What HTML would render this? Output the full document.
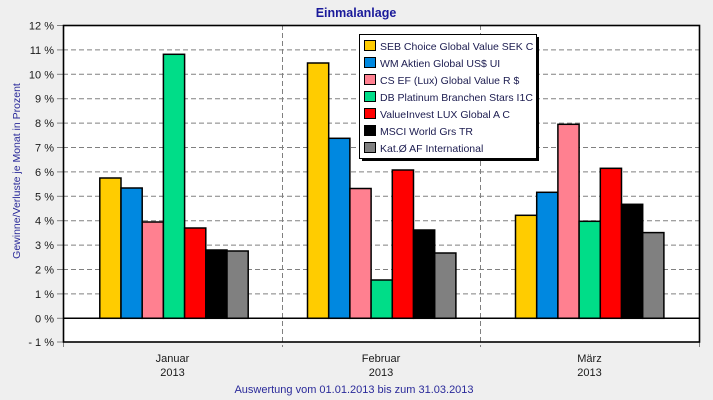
<!DOCTYPE html>
<html><head><meta charset="utf-8"><style>
html,body{margin:0;padding:0;background:#efefef;}
svg{display:block;}
text{font-family:"Liberation Sans",Arial,sans-serif;}
</style></head><body>
<svg width="713" height="400" viewBox="0 0 713 400" xmlns="http://www.w3.org/2000/svg">
<rect x="0" y="0" width="713" height="400" fill="#efefef"/>
<text x="356" y="17" font-size="12.5" font-weight="bold" fill="#1a1a9a" text-anchor="middle">Einmalanlage</text>
<!-- plot bg -->
<rect x="63" y="25" width="636" height="317" fill="#ffffff"/>
<!-- grid horizontal -->
<g stroke="#808080" stroke-width="1" stroke-dasharray="5,3">
<line x1="63" x2="699" y1="49.9" y2="49.9"/>
<line x1="63" x2="699" y1="74.3" y2="74.3"/>
<line x1="63" x2="699" y1="98.7" y2="98.7"/>
<line x1="63" x2="699" y1="123.1" y2="123.1"/>
<line x1="63" x2="699" y1="147.5" y2="147.5"/>
<line x1="63" x2="699" y1="171.9" y2="171.9"/>
<line x1="63" x2="699" y1="196.3" y2="196.3"/>
<line x1="63" x2="699" y1="220.7" y2="220.7"/>
<line x1="63" x2="699" y1="245.1" y2="245.1"/>
<line x1="63" x2="699" y1="269.5" y2="269.5"/>
<line x1="63" x2="699" y1="293.9" y2="293.9"/>
<line x1="282.5" x2="282.5" y1="25" y2="347"/>
<line x1="480.5" x2="480.5" y1="25" y2="347"/>
</g>
<!-- y ticks -->
<g stroke="#808080" stroke-width="1">
<line x1="57" x2="63" y1="25.5" y2="25.5"/>
<line x1="57" x2="63" y1="49.9" y2="49.9"/>
<line x1="57" x2="63" y1="74.3" y2="74.3"/>
<line x1="57" x2="63" y1="98.7" y2="98.7"/>
<line x1="57" x2="63" y1="123.1" y2="123.1"/>
<line x1="57" x2="63" y1="147.5" y2="147.5"/>
<line x1="57" x2="63" y1="171.9" y2="171.9"/>
<line x1="57" x2="63" y1="196.3" y2="196.3"/>
<line x1="57" x2="63" y1="220.7" y2="220.7"/>
<line x1="57" x2="63" y1="245.1" y2="245.1"/>
<line x1="57" x2="63" y1="269.5" y2="269.5"/>
<line x1="57" x2="63" y1="293.9" y2="293.9"/>
<line x1="57" x2="63" y1="318.3" y2="318.3"/>
<line x1="57" x2="63" y1="342" y2="342"/>
<line x1="63.5" x2="63.5" y1="342" y2="347"/>
<line x1="699.5" x2="699.5" y1="342" y2="347"/>
</g>
<g font-size="11" fill="#1a1a1a" text-anchor="end">
<text x="54" y="29.5">12 %</text>
<text x="54" y="53.9">11 %</text>
<text x="54" y="78.3">10 %</text>
<text x="54" y="102.7">9 %</text>
<text x="54" y="127.1">8 %</text>
<text x="54" y="151.5">7 %</text>
<text x="54" y="175.9">6 %</text>
<text x="54" y="200.3">5 %</text>
<text x="54" y="224.7">4 %</text>
<text x="54" y="249.1">3 %</text>
<text x="54" y="273.5">2 %</text>
<text x="54" y="297.9">1 %</text>
<text x="54" y="322.3">0 %</text>
<text x="54" y="346">- 1 %</text>
</g>
<text transform="translate(20,171) rotate(-90)" font-size="10.5" fill="#2a2a9a" text-anchor="middle">Gewinne/Verluste je Monat in Prozent</text>
<!-- bars -->
<g stroke="#000" stroke-width="1.5">
<rect x="99.8" y="178" width="21.2" height="140.3" fill="#ffcc00"/>
<rect x="121" y="188" width="21.2" height="130.3" fill="#0088e0"/>
<rect x="142.2" y="222" width="21.2" height="96.3" fill="#ff8090"/>
<rect x="163.4" y="54.3" width="21.2" height="264" fill="#00dd88"/>
<rect x="184.6" y="228" width="21.2" height="90.3" fill="#ff0000"/>
<rect x="205.8" y="250" width="21.2" height="68.3" fill="#000000"/>
<rect x="227" y="251" width="21.2" height="67.3" fill="#808080"/>
<rect x="307.5" y="63" width="21.2" height="255.3" fill="#ffcc00"/>
<rect x="328.7" y="138.3" width="21.2" height="180" fill="#0088e0"/>
<rect x="349.9" y="188.5" width="21.2" height="129.8" fill="#ff8090"/>
<rect x="371.1" y="280" width="21.2" height="38.3" fill="#00dd88"/>
<rect x="392.3" y="170" width="21.2" height="148.3" fill="#ff0000"/>
<rect x="413.5" y="230" width="21.2" height="88.3" fill="#000000"/>
<rect x="434.7" y="253" width="21.2" height="65.3" fill="#808080"/>
<rect x="515.5" y="215.3" width="21.2" height="103" fill="#ffcc00"/>
<rect x="536.7" y="192.3" width="21.2" height="126" fill="#0088e0"/>
<rect x="557.9" y="124.3" width="21.2" height="194" fill="#ff8090"/>
<rect x="579.1" y="221.3" width="21.2" height="97" fill="#00dd88"/>
<rect x="600.3" y="168.3" width="21.2" height="150" fill="#ff0000"/>
<rect x="621.5" y="204.3" width="21.2" height="114" fill="#000000"/>
<rect x="642.7" y="232.6" width="21.2" height="85.7" fill="#808080"/>
</g>
<!-- zero line -->
<line x1="63" x2="699" y1="318.3" y2="318.3" stroke="#000" stroke-width="1.5"/>
<!-- plot border -->
<rect x="63.5" y="25.5" width="636" height="316.5" fill="none" stroke="#000" stroke-width="1.6"/>
<!-- category labels -->
<g font-size="11" fill="#1a1a1a" text-anchor="middle">
<text x="172.5" y="362">Januar</text>
<text x="172.5" y="376">2013</text>
<text x="381" y="362">Februar</text>
<text x="381" y="376">2013</text>
<text x="589.5" y="362">März</text>
<text x="589.5" y="376">2013</text>
</g>
<text x="354" y="393" font-size="11" fill="#2a2a9a" text-anchor="middle">Auswertung vom 01.01.2013 bis zum 31.03.2013</text>
<!-- legend -->
<rect x="362" y="37" width="177" height="124" fill="#000"/>
<rect x="359.5" y="34.5" width="177" height="124" fill="#ffffff" stroke="#000" stroke-width="1"/>
<g stroke="#000" stroke-width="1">
<rect x="364.5" y="40.5" width="11" height="10" fill="#ffcc00"/>
<rect x="364.5" y="57.5" width="11" height="10" fill="#0088e0"/>
<rect x="364.5" y="74.5" width="11" height="10" fill="#ff8090"/>
<rect x="364.5" y="91.5" width="11" height="10" fill="#00dd88"/>
<rect x="364.5" y="108.5" width="11" height="10" fill="#ff0000"/>
<rect x="364.5" y="125.5" width="11" height="10" fill="#000000"/>
<rect x="364.5" y="142.5" width="11" height="10" fill="#808080"/>
</g>
<g font-size="10.5" fill="#1c1c50">
<text x="380" y="50">SEB Choice Global Value SEK C</text>
<text x="380" y="67">WM Aktien Global US$ UI</text>
<text x="380" y="84">CS EF (Lux) Global Value R $</text>
<text x="380" y="101">DB Platinum Branchen Stars I1C</text>
<text x="380" y="118">ValueInvest LUX Global A C</text>
<text x="380" y="135">MSCI World Grs TR</text>
<text x="380" y="152">Kat.Ø AF International</text>
</g>
</svg>
</body></html>
